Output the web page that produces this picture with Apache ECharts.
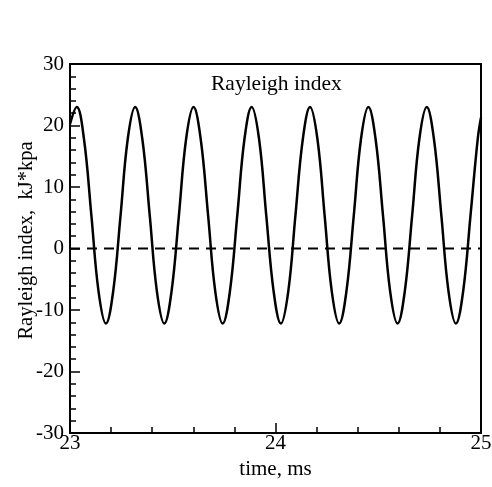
<!DOCTYPE html>
<html>
<head>
<meta charset="utf-8">
<script src="https://cdn.jsdelivr.net/npm/echarts@6/dist/echarts.min.js"></script>
<style>
html, body { margin: 0; padding: 0; background: #fff; }
#myChart { width: 492px; height: 487px; }
</style>
</head>
<body>
<div id="myChart"></div>
<script>
// time samples, ms (about 8 per cycle)
var timeMs = [
	23.000,
	23.033, 23.068, 23.104, 23.139, 23.175, 23.210, 23.246, 23.281,
	23.317, 23.352, 23.388, 23.423, 23.459, 23.494, 23.530, 23.565,
	23.601, 23.636, 23.672, 23.707, 23.743, 23.778, 23.814, 23.849,
	23.884, 23.920, 23.955, 23.991, 24.026, 24.062, 24.097, 24.133,
	24.168, 24.204, 24.239, 24.274, 24.310, 24.345, 24.381, 24.416,
	24.452, 24.487, 24.523, 24.558, 24.594, 24.629, 24.665, 24.700,
	24.736, 24.771, 24.807, 24.842, 24.878, 24.913, 24.949, 24.984,
	25.000
]
// Rayleigh index, kJ*kpa
var rayleigh = [
	20.2,
	23.0, 17.8, 5.4, -7.0, -12.2, -7.0, 5.4, 17.8,
	23.0, 17.8, 5.4, -7.0, -12.2, -7.0, 5.4, 17.8,
	23.0, 17.8, 5.4, -7.0, -12.2, -7.0, 5.4, 17.8,
	23.0, 17.8, 5.4, -7.0, -12.2, -7.0, 5.4, 17.8,
	23.0, 17.8, 5.4, -7.0, -12.2, -7.0, 5.4, 17.8,
	23.0, 17.8, 5.4, -7.0, -12.2, -7.0, 5.4, 17.8,
	23.0, 17.8, 5.4, -7.0, -12.2, -7.0, 5.4, 17.8,
	21.3
]
var zeroTime = [23, 25]
var zeroVal = [0, 0]
var xTicks = [23, 24, 25]
var yTicks = [-30, -20, -10, 0, 10, 20, 30]

function pairs (xs, ys) {
	return xs.map(function (x, i) { return [x, ys[i]] })
}

var serif = 'Liberation Serif, Times New Roman, serif'
var myChart = echarts.init(document.getElementById('myChart'))
var option = {
	animation: false,
	backgroundColor: '#fff',
	title: {
		text: 'Rayleigh index',
		left: 206,
		top: 68,
		textStyle: { fontFamily: serif, fontSize: 21.5, fontWeight: 'normal', color: '#000' }
	},
	grid: {
		left: 70,
		top: 64,
		right: 11,
		bottom: 54,
		containLabel: false,
		outerBoundsMode: 'none',
		show: true,
		borderColor: '#000',
		borderWidth: 2,
		backgroundColor: 'transparent'
	},
	xAxis: {
		type: 'value',
		min: xTicks[0],
		max: xTicks[xTicks.length - 1],
		interval: 1,
		name: 'time, ms',
		nameLocation: 'middle',
		nameGap: 25,
		nameTextStyle: { fontFamily: serif, fontSize: 21, color: '#000' },
		axisLine: { show: true, onZero: false, lineStyle: { color: '#000', width: 2 } },
		axisTick: { show: true, inside: true, length: 10, lineStyle: { color: '#000', width: 1.5 } },
		minorTick: { show: true, splitNumber: 5, length: 6, lineStyle: { color: '#000', width: 1.5 } },
		axisLabel: { fontFamily: serif, fontSize: 21, color: '#000', margin: 0 },
		splitLine: { show: false }
	},
	yAxis: {
		type: 'value',
		min: yTicks[0],
		max: yTicks[yTicks.length - 1],
		interval: 10,
		name: 'Rayleigh index,  kJ*kpa',
		nameLocation: 'middle',
		nameGap: 33,
		nameMoveOverlap: false,
		nameTextStyle: { fontFamily: serif, fontSize: 20.5, color: '#000', padding: [0, 0, 0, 16] },
		axisLine: { show: true, onZero: false, lineStyle: { color: '#000', width: 2 } },
		axisTick: { show: true, inside: true, length: 10, lineStyle: { color: '#000', width: 1.5 } },
		minorTick: { show: true, splitNumber: 5, length: 6, lineStyle: { color: '#000', width: 1.5 } },
		axisLabel: { fontFamily: serif, fontSize: 21, color: '#000', margin: 6 },
		splitLine: { show: false }
	},
	series: [
		{
			name: 'zero',
			type: 'line',
			data: pairs(zeroTime, zeroVal),
			symbol: 'none',
			lineStyle: { color: '#000', width: 2, type: [10, 7] }
		},
		{
			name: 'Rayleigh index',
			type: 'line',
			data: pairs(timeMs, rayleigh),
			smooth: 0.4,
			symbol: 'none',
			clip: true,
			lineStyle: { color: '#000', width: 2.5 }
		}
	]
}
myChart.setOption(option)
</script>
</body>
</html>
